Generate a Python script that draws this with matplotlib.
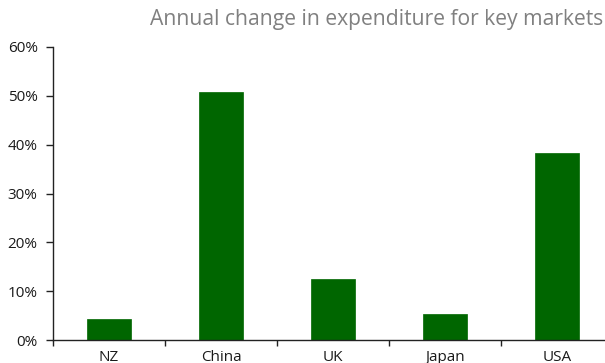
import matplotlib
matplotlib.use("Agg")
import matplotlib.pyplot as plt
from matplotlib.ticker import FuncFormatter, FixedLocator

categories = ["NZ", "China", "UK", "Japan", "USA"]
values = [4.2, 50.8, 12.5, 5.3, 38.3]
yticks = [0, 10, 20, 30, 40, 50, 60]
title = "Annual change in expenditure for key markets"

W, H = 605, 363
fig = plt.figure(figsize=(W / 100, H / 100), dpi=100)
plt.rcParams['font.family'] = ['Open Sans', 'DejaVu Sans']

left, right = 53, 613
bottom, top = 340, 47
ax = fig.add_axes([left / W, (H - bottom) / H, (right - left) / W, (bottom - top) / H])

x = list(range(len(categories)))
ax.bar(x, values, width=0.4, color="#006600", edgecolor="#006600", linewidth=0.5, zorder=2)

ax.set_xlim(-0.5, len(categories) - 0.5)
ax.set_ylim(0, 60)
ax.set_yticks(yticks)
ax.yaxis.set_major_formatter(FuncFormatter(lambda v, p: f"{int(v)}%"))
ax.set_xticks(x)
ax.set_xticklabels(categories)
ax.xaxis.set_minor_locator(FixedLocator([i + 0.5 for i in range(-1, len(categories))]))
ax.tick_params(axis="x", which="major", length=0, pad=7, labelsize=11, labelcolor="#1a1a1a")
ax.tick_params(axis="x", which="minor", length=4, width=1, color="#222222", direction="out")
ax.tick_params(axis="y", length=5, width=1, color="#222222", labelsize=11, labelcolor="#1a1a1a", pad=6)

for s in ["top", "right"]:
    ax.spines[s].set_visible(False)
for s in ["left", "bottom"]:
    ax.spines[s].set_color("#222222")
    ax.spines[s].set_linewidth(1)

fig.text(603 / W, 1 - 20 / H, title, ha="right", va="center", fontsize=15.2, color="#808080")

fig.savefig("out.png", dpi=100)
